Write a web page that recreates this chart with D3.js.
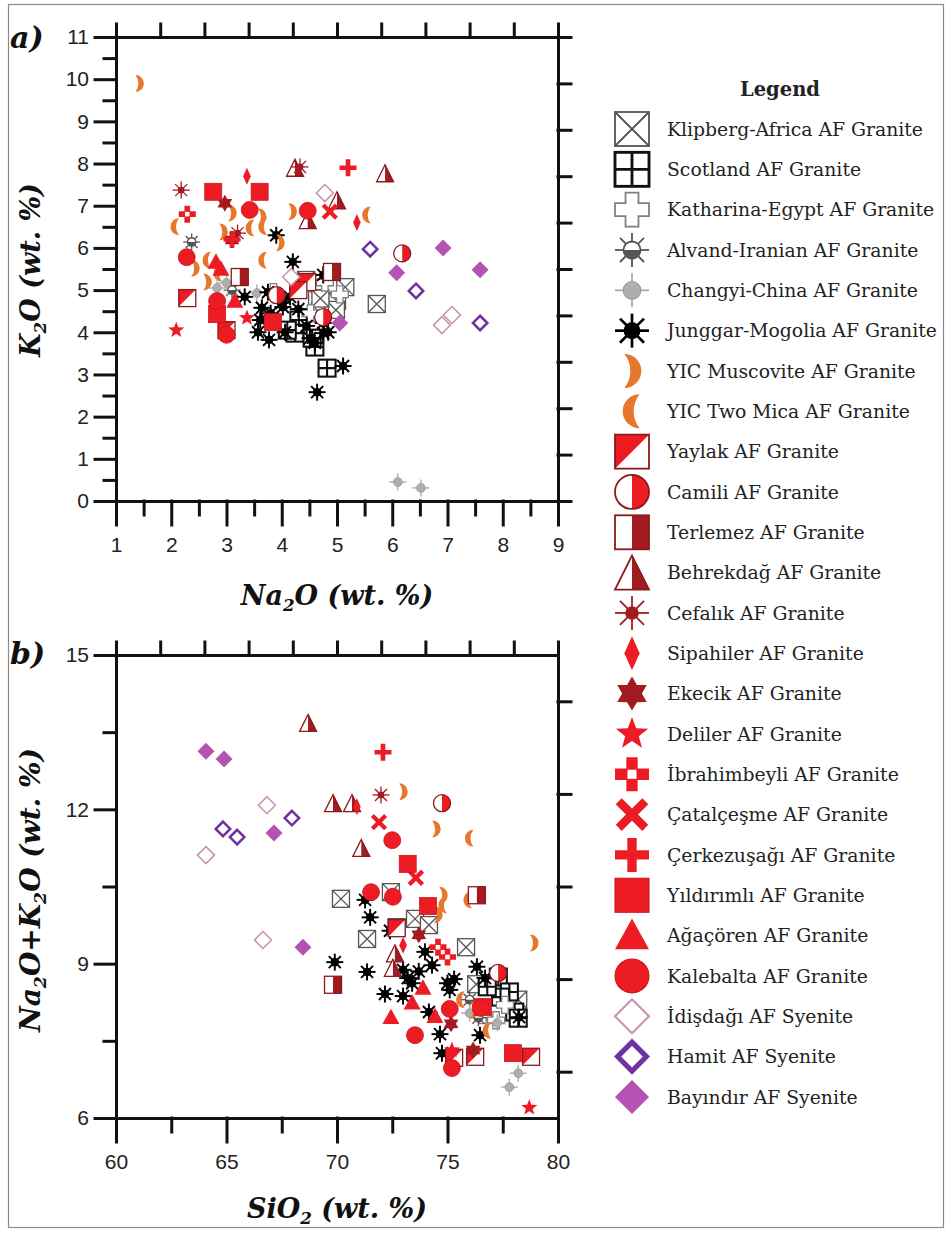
<!DOCTYPE html>
<html>
<head>
<meta charset="utf-8">
<script src="https://cdn.jsdelivr.net/npm/d3@7"></script>
<style>
  body { margin: 0; background: #fff; }
  .axis path, .axis line { stroke: #111; stroke-width: 3; stroke-linecap: square; }
  .axis text { font-family: "Liberation Sans", Arial, sans-serif; font-size: 21px; fill: #222; }
  .title { font-family: "DejaVu Serif", serif; font-weight: bold; font-style: italic; fill: #111; }
  .leg { font-family: "DejaVu Serif", serif; font-size: 18.8px; fill: #222; }
</style>
</head>
<body>
<svg id="chart" width="951" height="1235"></svg>
<script>
// legend entries, in order
const names = [
  'Klipberg-Africa AF Granite', 'Scotland AF Granite', 'Katharina-Egypt AF Granite',
  'Alvand-Iranian AF Granite', 'Changyi-China AF Granite', 'Junggar-Mogolia AF Granite',
  'YIC Muscovite AF Granite', 'YIC Two Mica AF Granite', 'Yaylak AF Granite',
  'Camili AF Granite', 'Terlemez AF Granite', 'Behrekdağ AF Granite',
  'Cefalık AF Granite', 'Sipahiler AF Granite', 'Ekecik AF Granite',
  'Deliler AF Granite', 'İbrahimbeyli AF Granite', 'Çatalçeşme AF Granite',
  'Çerkezuşağı AF Granite', 'Yıldırımlı AF Granite', 'Ağaçören AF Granite',
  'Kalebalta AF Granite', 'İdişdağı AF Syenite', 'Hamit AF Syenite', 'Bayındır AF Syenite'
]

// a) Na2O vs K2O (wt. %)
const klipA = [[5.15, 5.07], [4.64, 4.81], [5.0, 4.74], [4.98, 4.53], [4.69, 4.46], [4.44, 5.24], [5.72, 4.67], [4.7, 4.8]]
const scotA = [[4.31, 4.29], [4.24, 3.98], [4.6, 3.65], [4.55, 3.86], [4.82, 3.15], [4.1, 4.05]]
const kathA = [[4.78, 5.18], [5.05, 4.9], [4.52, 4.45], [3.85, 4.95]]
const alvandA = [[2.37, 6.14], [3.1, 5.0]]
const changA = [[3.0, 5.17], [2.83, 5.05], [3.55, 4.93], [6.1, 0.45], [6.52, 0.31]]
const jungA = [[3.9, 6.3], [4.2, 5.67], [3.75, 4.95], [3.93, 4.84], [4.15, 4.84], [4.02, 4.6], [3.64, 4.58],
  [3.61, 4.29], [3.57, 4.0], [3.77, 3.82], [4.06, 4.0], [4.51, 3.86], [4.75, 3.98], [4.84, 4.0], [4.6, 3.75],
  [3.33, 4.84], [4.75, 5.36], [4.75, 4.22], [5.11, 3.2], [4.64, 2.58], [4.0, 4.7], [4.3, 4.55], [4.45, 4.15], [3.8, 4.45]]
const muscA = [[1.42, 9.9], [3.1, 6.83], [3.64, 6.74], [4.19, 6.86], [2.94, 6.38], [3.97, 6.12], [2.43, 5.52], [2.65, 5.19]]
const twoA = [[5.54, 6.78], [2.07, 6.5], [3.43, 6.47], [3.66, 5.71], [2.65, 5.71], [2.85, 5.4], [3.66, 6.5]]
const yaylakA = [[2.29, 4.81], [3.0, 4.05], [4.46, 5.19], [4.3, 5.0]]
const camiliA = [[3.91, 4.88], [4.75, 4.36], [6.18, 5.87]]
const terlemezA = [[3.24, 5.31], [4.91, 5.43]]
const behrekA = [[4.24, 7.9], [4.47, 6.66], [5.0, 7.13], [5.87, 7.77]]
const cefalikA = [[2.18, 7.37], [4.33, 7.92], [3.2, 6.35]]
const sipahilerA = [[3.37, 7.7], [5.36, 6.6]]
const ekecikA = [[2.97, 7.06], [3.1, 6.19]]
const delilerA = [[2.09, 4.05], [3.37, 4.34]]
const ibrahimA = [[2.29, 6.8]]
const catalA = [[4.87, 6.86]]
const cerkezA = [[5.2, 7.9], [3.1, 6.2]]
const yildirimA = [[2.76, 7.33], [3.6, 7.33], [2.83, 4.43], [3.84, 4.24]]
const agacA = [[2.81, 5.67], [3.15, 4.74], [2.9, 5.5]]
const kalebA = [[3.42, 6.9], [4.47, 6.88], [2.28, 5.78], [2.83, 4.74], [3.0, 3.94]]
const idisA = [[4.78, 7.3], [4.17, 5.31], [6.9, 4.17], [7.08, 4.41]]
const hamitA = [[5.6, 5.97], [6.43, 4.98], [7.59, 4.22]]
const bayinA = [[6.92, 6.0], [6.08, 5.41], [7.59, 5.48], [5.05, 4.22]]

// b) SiO2 vs Na2O+K2O (wt. %)
const klipB = [[70.18, 10.26], [71.36, 9.48], [72.44, 10.39], [73.53, 9.87], [74.16, 9.75], [75.84, 9.32], [72.7, 9.71], [78.2, 8.3], [76.3, 8.6]]
const scotB = [[77.3, 8.74], [77.8, 8.45], [77.4, 8.35], [78.04, 8.06], [78.2, 7.94], [76.8, 8.55]]
const kathB = [[76.6, 8.0], [77.2, 7.9], [77.6, 8.2]]
const alvandB = [[76.0, 8.3], [76.4, 7.95]]
const changB = [[76.0, 8.04], [77.25, 7.85], [78.2, 6.87], [77.8, 6.6]]
const jungB = [[71.27, 10.24], [71.5, 9.9], [72.4, 9.64], [69.9, 9.03], [71.36, 8.84], [73.98, 9.23], [74.3, 8.97],
  [72.99, 8.88], [73.2, 8.72], [73.4, 8.62], [72.17, 8.41], [72.99, 8.37], [75.0, 8.62], [75.1, 8.49], [76.33, 8.94],
  [76.7, 8.72], [74.16, 8.06], [74.66, 7.63], [76.47, 7.61], [74.75, 7.26], [78.24, 7.96], [73.7, 8.85], [75.3, 8.7]]
const muscB = [[72.99, 12.34], [74.48, 11.62], [74.8, 10.33], [74.57, 9.95], [78.91, 9.4], [76.2, 8.1]]
const twoB = [[76.0, 11.44], [74.8, 10.14], [75.93, 10.24], [75.6, 8.3], [76.8, 7.7]]
const yaylakB = [[72.7, 9.69], [75.3, 7.17], [76.25, 7.19], [78.78, 7.19]]
const camiliB = [[74.75, 12.12], [77.29, 8.82]]
const terlemezB = [[69.82, 8.59], [76.33, 10.33]]
const behrekB = [[68.69, 13.68], [69.82, 12.12], [70.68, 12.12], [71.1, 11.25], [72.62, 9.2], [72.53, 8.92]]
const cefalikB = [[71.99, 12.28]]
const sipahilerB = [[70.9, 12.05], [72.99, 9.36]]
const ekecikB = [[73.7, 9.56], [75.16, 7.83], [76.16, 7.32]]
const delilerB = [[75.2, 7.32], [78.7, 6.2]]
const ibrahimB = [[74.57, 9.32], [75.0, 9.13]]
const catalB = [[71.9, 11.75], [73.57, 10.67]]
const cerkezB = [[72.08, 13.11]]
const yildirimB = [[73.2, 10.94], [74.12, 10.12], [76.6, 8.16], [77.96, 7.26]]
const agacB = [[73.89, 8.53], [73.4, 8.24], [72.44, 7.96], [74.43, 7.98]]
const kalebB = [[71.54, 10.39], [72.53, 10.3], [75.1, 8.12], [73.53, 7.61], [76.5, 8.14], [75.2, 6.97], [72.5, 11.4]]
const idisB = [[66.83, 12.08], [64.07, 11.11], [66.65, 9.46]]
const hamitB = [[64.84, 11.62], [65.48, 11.46], [67.96, 11.83]]
const bayinB = [[64.07, 13.13], [64.89, 12.98], [67.15, 11.54], [68.46, 9.32]]

const aTicks = d3.range(0, 12)
const aXTicks = d3.range(1, 10)
const bTicks = [6, 9, 12, 15]
const bXTicks = [60, 65, 70, 75, 80]

const panelA = [klipA, scotA, kathA, alvandA, changA, jungA, muscA, twoA, yaylakA, camiliA, terlemezA, behrekA,
  cefalikA, sipahilerA, ekecikA, delilerA, ibrahimA, catalA, cerkezA, yildirimA, agacA, kalebA, idisA, hamitA, bayinA]
const panelB = [klipB, scotB, kathB, alvandB, changB, jungB, muscB, twoB, yaylakB, camiliB, terlemezB, behrekB,
  cefalikB, sipahilerB, ekecikB, delilerB, ibrahimB, catalB, cerkezB, yildirimB, agacB, kalebB, idisB, hamitB, bayinB]
const symbols = ['klip', 'scot', 'kath', 'alvand', 'chang', 'jung', 'musc', 'two', 'yaylak', 'camili', 'terlemez',
  'behrek', 'cefalik', 'sipahiler', 'ekecik', 'deliler', 'ibrahim', 'catal', 'cerkez', 'yildirim', 'agac', 'kaleb',
  'idis', 'hamit', 'bayin']

const RED = '#ed1c24', DRED = '#a11b20', EDGE = '#8c1a1d', ORANGE = '#e8772e'

function starPath (n, ro, ri) {
  const pts = []
  for (let i = 0; i < 2 * n; i++) {
    const a = Math.PI * i / n - Math.PI / 2
    const rr = i % 2 ? ri : ro
    pts.push([rr * Math.cos(a), rr * Math.sin(a)])
  }
  return 'M' + pts.join('L') + 'Z'
}

function rays (g, n, r0, r1, color, w) {
  for (let i = 0; i < n; i++) {
    const a = 2 * Math.PI * i / n
    g.append('line')
      .attr('x1', r0 * Math.cos(a)).attr('y1', r0 * Math.sin(a))
      .attr('x2', r1 * Math.cos(a)).attr('y2', r1 * Math.sin(a))
      .attr('stroke', color).attr('stroke-width', w)
  }
}

function box (g, r, fill, stroke, w) {
  return g.append('rect').attr('x', -r).attr('y', -r).attr('width', 2 * r).attr('height', 2 * r)
    .attr('fill', fill).attr('stroke', stroke).attr('stroke-width', w)
}

function crescent (r) {
  const x0 = -0.45 * r
  return `M${x0},${-r}A${r},${r} 0 0 1 ${x0},${r}A${1.6 * r},${1.6 * r} 0 0 0 ${x0},${-r}Z`
}

const diamond = r => `M0,${-r}L${r},0L0,${r}L${-r},0Z`

const sym = {
  klip: (g, r, w) => {
    box(g, r, '#fff', '#555', w)
    g.append('path').attr('d', `M${-r},${-r}L${r},${r}M${r},${-r}L${-r},${r}`)
      .attr('stroke', '#555').attr('stroke-width', w)
  },
  scot: (g, r, w) => {
    box(g, r, '#fff', '#111', w * 1.6)
    g.append('path').attr('d', `M${-r},0L${r},0M0,${-r}L0,${r}`)
      .attr('stroke', '#111').attr('stroke-width', w * 1.6)
  },
  kath: (g, r, w) => {
    const a = r * 0.38
    g.append('path')
      .attr('d', `M${-a},${-r}L${a},${-r}L${a},${-a}L${r},${-a}L${r},${a}L${a},${a}L${a},${r}L${-a},${r}L${-a},${a}L${-r},${a}L${-r},${-a}L${-a},${-a}Z`)
      .attr('fill', '#fff').attr('stroke', '#808080').attr('stroke-width', w)
  },
  alvand: (g, r, w) => {
    const c = r * 0.5
    rays(g, 8, c, r, '#555', w)
    g.append('circle').attr('r', c).attr('fill', '#fff')
    g.append('path').attr('d', `M${-c},0A${c},${c} 0 0 0 ${c},0Z`).attr('fill', '#555')
    g.append('circle').attr('r', c).attr('fill', 'none').attr('stroke', '#555').attr('stroke-width', w)
  },
  chang: (g, r, w) => {
    rays(g, 4, 0, r, '#aaa', w)
    g.append('circle').attr('r', r * 0.52).attr('fill', '#aeaeae').attr('stroke', '#999').attr('stroke-width', w * 0.6)
  },
  jung: (g, r, w) => {
    rays(g, 8, 0, r, '#000', w * 1.5)
    g.append('circle').attr('r', r * 0.5).attr('fill', '#000')
  },
  musc: (g, r) => {
    g.append('path').attr('d', crescent(r)).attr('fill', ORANGE)
  },
  two: (g, r) => {
    g.append('path').attr('d', crescent(r)).attr('transform', 'scale(-1,1)').attr('fill', ORANGE)
  },
  yaylak: (g, r, w) => {
    box(g, r, '#fff', 'none', 0)
    g.append('path').attr('d', `M${-r},${-r}L${r},${-r}L${-r},${r}Z`).attr('fill', RED)
    box(g, r, 'none', EDGE, w)
  },
  camili: (g, r, w) => {
    g.append('circle').attr('r', r).attr('fill', '#fff')
    g.append('path').attr('d', `M0,${-r}A${r},${r} 0 0 1 0,${r}Z`).attr('fill', RED)
    g.append('circle').attr('r', r).attr('fill', 'none').attr('stroke', EDGE).attr('stroke-width', w)
  },
  terlemez: (g, r, w) => {
    box(g, r, '#fff', 'none', 0)
    g.append('rect').attr('x', 0).attr('y', -r).attr('width', r).attr('height', 2 * r).attr('fill', DRED)
    box(g, r, 'none', EDGE, w)
  },
  behrek: (g, r, w) => {
    const tri = `M0,${-r}L${r},${r}L${-r},${r}Z`
    g.append('path').attr('d', tri).attr('fill', '#fff')
    g.append('path').attr('d', `M0,${-r}L${r},${r}L0,${r}Z`).attr('fill', DRED)
    g.append('path').attr('d', tri).attr('fill', 'none').attr('stroke', EDGE).attr('stroke-width', w)
  },
  cefalik: (g, r, w) => {
    rays(g, 8, 0, r, DRED, w)
    g.append('circle').attr('r', r * 0.4).attr('fill', DRED)
  },
  sipahiler: (g, r) => {
    g.append('path').attr('d', `M0,${-r}L${0.45 * r},0L0,${r}L${-0.45 * r},0Z`).attr('fill', RED)
  },
  ekecik: (g, r) => {
    g.append('path').attr('d', starPath(6, r, r * 0.58)).attr('fill', DRED)
  },
  deliler: (g, r) => {
    g.append('path').attr('d', starPath(5, r, r * 0.42)).attr('fill', RED)
  },
  ibrahim: (g, r) => {
    const a = r / 3
    g.append('path')
      .attr('d', `M${-a},${-r}L${a},${-r}L${a},${-a}L${r},${-a}L${r},${a}L${a},${a}L${a},${r}L${-a},${r}L${-a},${a}L${-r},${a}L${-r},${-a}L${-a},${-a}Z`)
      .attr('fill', RED)
    g.append('rect').attr('x', -a * 0.8).attr('y', -a * 0.8).attr('width', a * 1.6).attr('height', a * 1.6).attr('fill', '#fff')
  },
  catal: (g, r) => {
    const s = r * 0.78
    g.append('path').attr('d', `M${-s},${-s}L${s},${s}M${s},${-s}L${-s},${s}`)
      .attr('stroke', RED).attr('stroke-width', r * 0.5)
  },
  cerkez: (g, r) => {
    g.append('path').attr('d', `M${-r},0L${r},0M0,${-r}L0,${r}`)
      .attr('stroke', RED).attr('stroke-width', r * 0.55)
  },
  yildirim: (g, r, w) => {
    box(g, r, RED, '#c8161d', w * 0.6)
  },
  agac: (g, r) => {
    g.append('path').attr('d', `M0,${-r}L${r},${0.8 * r}L${-r},${0.8 * r}Z`).attr('fill', RED)
  },
  kaleb: (g, r, w) => {
    g.append('circle').attr('r', r).attr('fill', RED).attr('stroke', '#c8161d').attr('stroke-width', w * 0.6)
  },
  idis: (g, r, w) => {
    g.append('path').attr('d', diamond(r)).attr('fill', '#fff').attr('stroke', '#c994ae').attr('stroke-width', w * 1.2)
  },
  hamit: (g, r) => {
    g.append('path').attr('d', diamond(r * 0.85)).attr('fill', '#fff').attr('stroke', '#7231a0').attr('stroke-width', r * 0.3)
  },
  bayin: (g, r) => {
    g.append('path').attr('d', diamond(r)).attr('fill', '#b553b3')
  }
}

const svg = d3.select('#chart')

// outer frame
svg.append('rect').attr('x', 8.5).attr('y', 4.5).attr('width', 935).attr('height', 1223)
  .attr('fill', 'none').attr('stroke', '#8a8a8a').attr('stroke-width', 1.2)

function frame (x, y, xMajor, xMinor, yMajor, yMinor, rightTicks) {
  const [l, r] = x.range()
  const [b, t] = y.range()
  const g = svg.append('g')

  g.append('g').attr('class', 'axis').attr('transform', `translate(0,${b})`)
    .call(d3.axisBottom(x).tickValues(xMinor).tickSize(14).tickSizeOuter(0).tickFormat(''))
  g.append('g').attr('class', 'axis').attr('transform', `translate(0,${b})`)
    .call(d3.axisBottom(x).tickValues(xMajor).tickSize(24).tickSizeOuter(0).tickPadding(12))
  g.append('g').attr('class', 'axis').attr('transform', `translate(${l},0)`)
    .call(d3.axisLeft(y).tickValues(yMinor).tickSize(12).tickSizeOuter(0).tickFormat(''))
  g.append('g').attr('class', 'axis').attr('transform', `translate(${l},0)`)
    .call(d3.axisLeft(y).tickValues(yMajor).tickSize(21).tickSizeOuter(0).tickPadding(6))

  // unlabelled top and right axes, divided into ten
  const top = d3.scaleLinear().domain([0, 10]).range([l, r])
  const right = d3.scaleLinear().domain([0, 10]).range([t, b])
  g.append('g').attr('class', 'axis').attr('transform', `translate(0,${t})`)
    .call(d3.axisTop(top).tickValues(d3.range(0, 11)).tickSize(13).tickSizeOuter(0).tickFormat(''))
  g.append('g').attr('class', 'axis').attr('transform', `translate(${r},0)`)
    .call(d3.axisRight(right).tickValues(rightTicks).tickSize(13).tickSizeOuter(0).tickFormat(''))
  return g
}

function points (x, y, sets) {
  const g = svg.append('g')
  sets.forEach((data, i) => {
    data.forEach(d => {
      const p = g.append('g').attr('transform', `translate(${x(d[0])},${y(d[1])})`)
      sym[symbols[i]](p, 8.5, 1.3)
    })
  })
}

function title (x, y, rot, parts, size) {
  const t = svg.append('text').attr('class', 'title').attr('font-size', size)
    .attr('text-anchor', 'middle')
    .attr('transform', `translate(${x},${y}) rotate(${rot})`)
  let down = false
  parts.forEach(p => {
    const s = t.append('tspan').text(p[0])
    if (p[1]) {
      s.attr('font-size', size * 0.62).attr('dy', size * 0.22)
      down = true
    } else if (down) {
      s.attr('dy', -size * 0.22)
      down = false
    }
  })
}

// panel a
const aX = d3.scaleLinear().domain([1, 9]).range([116, 558])
const aY = d3.scaleLinear().domain([0, 11]).range([501, 37])
frame(aX, aY, aXTicks, d3.range(1.5, 9, 1), aTicks, d3.range(0.5, 11, 1), d3.range(0, 11))
points(aX, aY, panelA)

// panel b
const bX = d3.scaleLinear().domain([60, 80]).range([116, 558])
const bY = d3.scaleLinear().domain([6, 15]).range([1118, 655])
frame(bX, bY, bXTicks, [62.5, 67.5, 72.5, 77.5], bTicks, [7.5, 10.5, 13.5], [1, 3, 5, 7, 9])
points(bX, bY, panelB)

// panel letters and axis titles
svg.append('text').attr('class', 'title').attr('font-size', 30).attr('x', 10).attr('y', 48).text('a)')
svg.append('text').attr('class', 'title').attr('font-size', 30).attr('x', 10).attr('y', 664).text('b)')

title(337, 605, 0, [['Na'], ['2', true], ['O (wt. %)']], 27)
title(337, 1218, 0, [['SiO'], ['2', true], [' (wt. %)']], 27)
title(40, 270, -90, [['K'], ['2', true], ['O (wt. %)']], 27)
title(40, 890, -90, [['Na'], ['2', true], ['O+K'], ['2', true], ['O (wt. %)']], 28)

// legend
svg.append('text').attr('x', 780).attr('y', 96).attr('text-anchor', 'middle')
  .attr('font-family', 'DejaVu Serif, serif').attr('font-weight', 'bold').attr('font-size', 19.5)
  .attr('fill', '#222').text('Legend')

const legend = svg.append('g')
names.forEach((name, i) => {
  const yy = 129 + i * 40.33
  const p = legend.append('g').attr('transform', `translate(632,${yy})`)
  sym[symbols[i]](p, 17, 1.8)
  legend.append('text').attr('class', 'leg').attr('x', 667).attr('y', yy).attr('dy', '0.35em').text(name)
})
</script>
</body>
</html>
